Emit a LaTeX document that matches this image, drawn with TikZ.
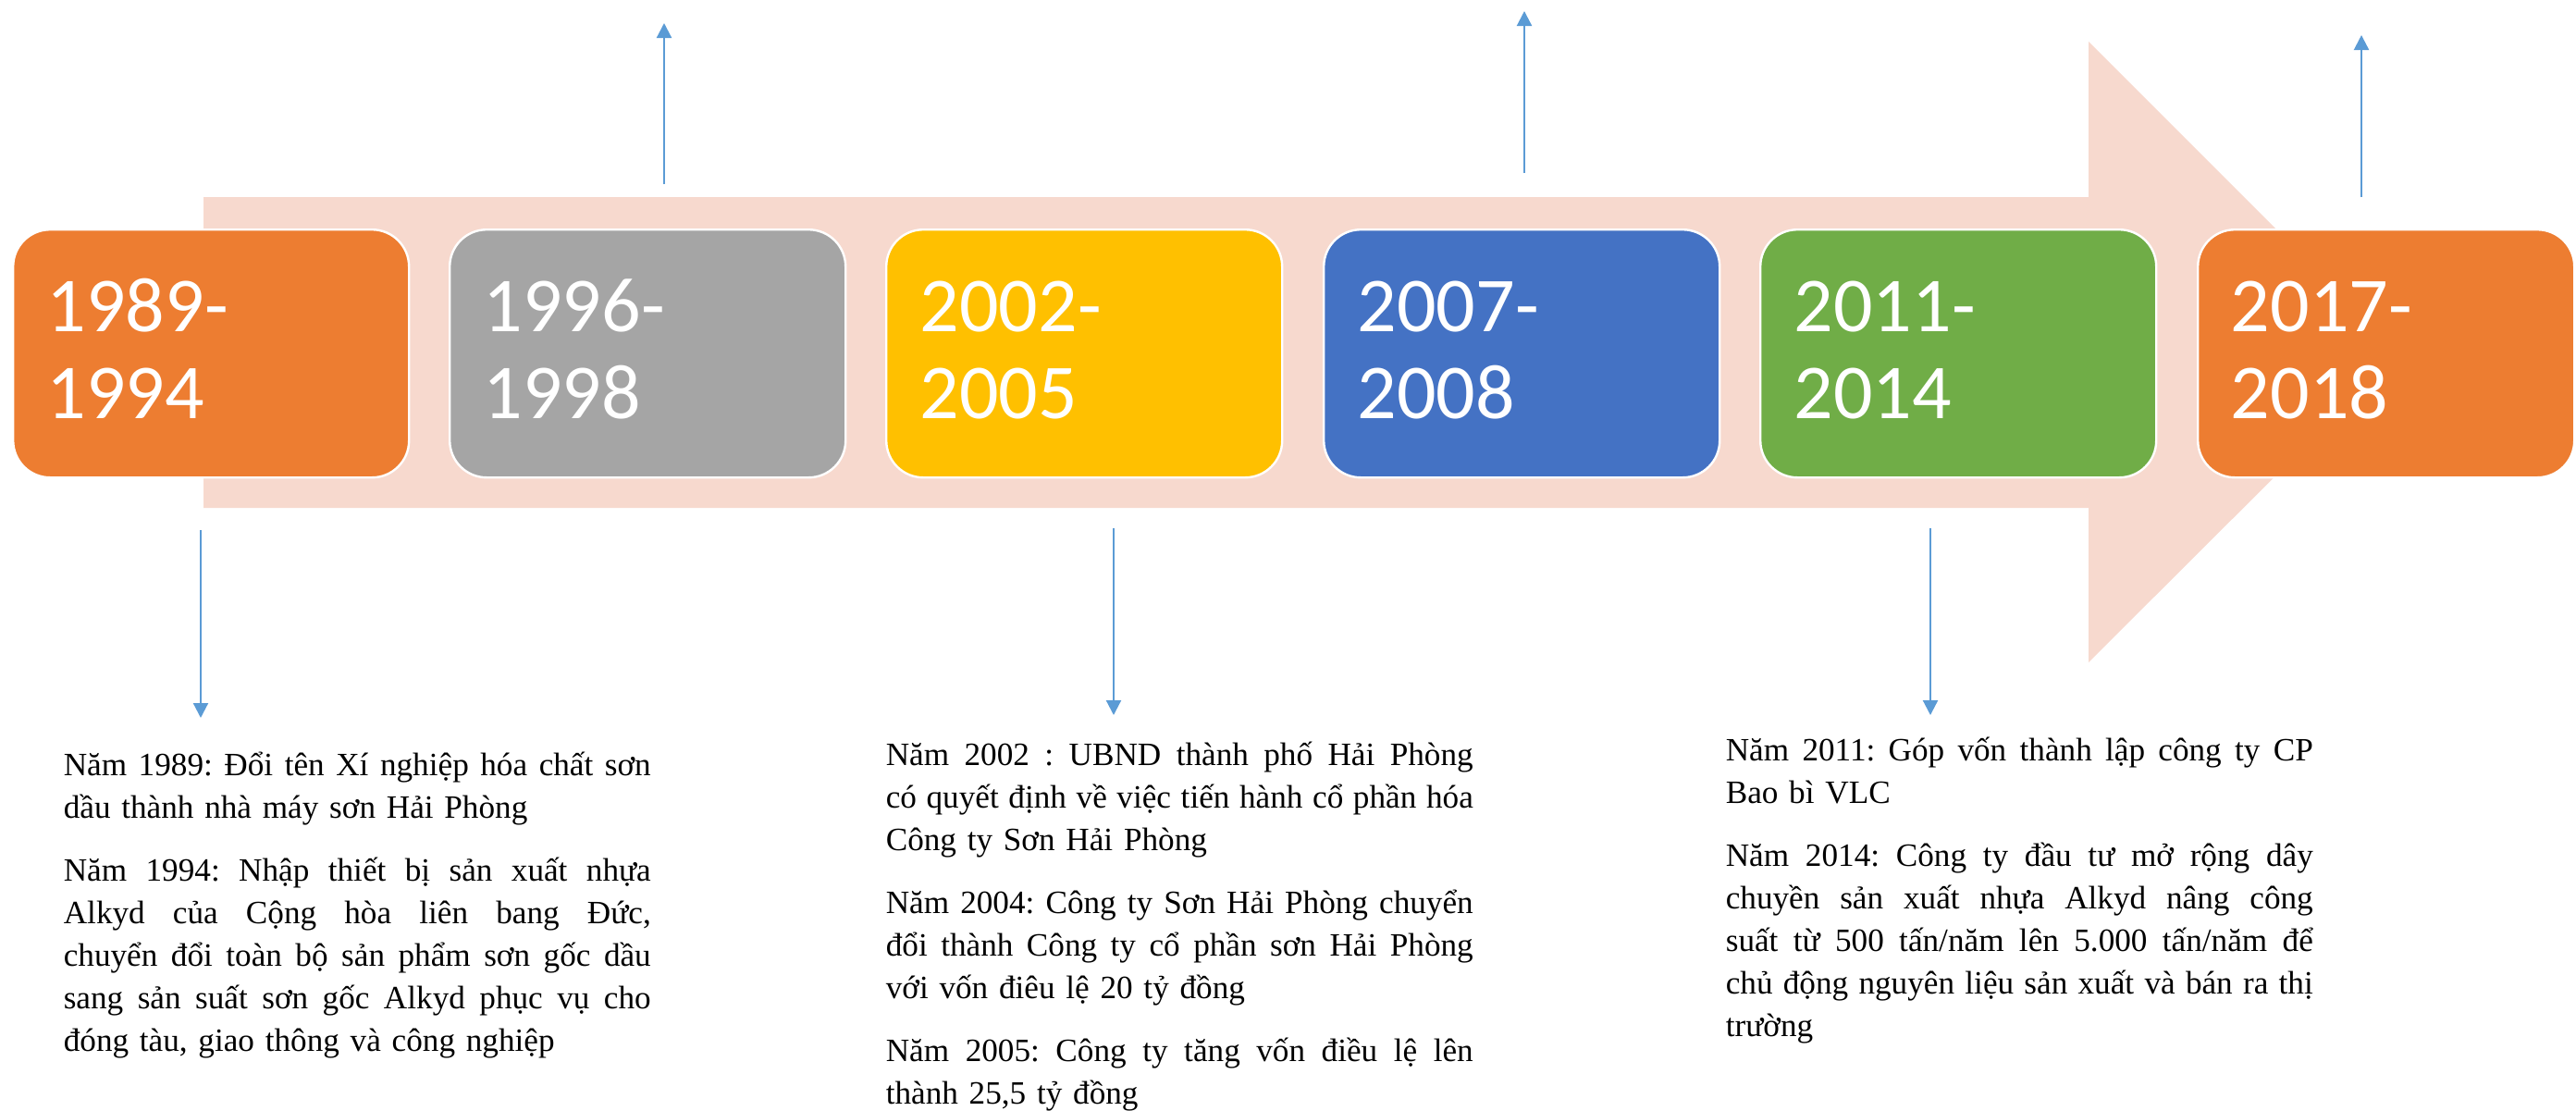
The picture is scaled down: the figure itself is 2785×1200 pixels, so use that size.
\documentclass[tikz,border=0pt]{standalone}
\usepackage{fontspec}
\setmainfont{Liberation Serif}
\newfontfamily\calfont{Carlito}
\usetikzlibrary{arrows.meta}
\definecolor{arrowbg}{HTML}{F7D9CE}
\definecolor{cOrange}{HTML}{ED7D31}
\definecolor{cGray}{HTML}{A5A5A5}
\definecolor{cGold}{HTML}{FFC000}
\definecolor{cBlue}{HTML}{4472C4}
\definecolor{cGreen}{HTML}{70AD47}
\definecolor{cLine}{HTML}{5B9BD5}
\newlength\descw
\setlength\descw{158.75pt}
\newcommand{\jl}[1]{\leavevmode\hbox to \descw{\spaceskip=\fontdimen2\font plus 1fil minus .4\fontdimen2\font\relax #1}}
\begin{document}
\begin{tikzpicture}[x=0.25pt,y=-0.25pt,
  yearbox/.style={draw=white, line width=0.6pt, rounded corners=10pt,
    minimum width=107pt, minimum height=67pt, inner sep=0pt, anchor=north west},
  yearlabel/.style={anchor=base west, inner sep=0pt, text=white,
    font=\calfont\fontsize{21}{23.5}\selectfont, text width=80pt, align=left},
  desc/.style={anchor=base west, inner sep=0pt, text width=\descw, align=left,
    font=\fontsize{8.8}{11.5}\selectfont\frenchspacing},
  conn/.style={draw=cLine, line width=0.55pt, -{Triangle[width=4pt,length=4pt]}}
]
\useasboundingbox (0,0) rectangle (2785,1200);

% big background arrow
\fill[arrowbg] (220,213) -- (2258,213) -- (2258,45) -- (2594,381)
  -- (2258,716) -- (2258,549) -- (220,549) -- cycle;

% year boxes
\node[yearbox, fill=cOrange] (b1) at (13,247) {};
\node[yearbox, fill=cGray]   (b2) at (485,247) {};
\node[yearbox, fill=cGold]   (b3) at (957,247) {};
\node[yearbox, fill=cBlue]   (b4) at (1430,247) {};
\node[yearbox, fill=cGreen]  (b5) at (1902,247) {};
\node[yearbox, fill=cOrange, minimum width=101.75pt] (b6) at (2375,247) {};

\node[yearlabel] (l1) at (50,358) {1989-\\1994};
\node[yearlabel] (l2) at (522,358) {1996-\\1998};
\node[yearlabel] (l3) at (994,358) {2002-\\2005};
\node[yearlabel] (l4) at (1467,358) {2007-\\2008};
\node[yearlabel] (l5) at (1939,358) {2011-\\2014};
\node[yearlabel] (l6) at (2411,358) {2017-\\2018};

% connectors
\coordinate (u1a) at (718,199);  \coordinate (u1b) at (718,25);
\coordinate (u2a) at (1648,187); \coordinate (u2b) at (1648,12);
\coordinate (u3a) at (2553,213); \coordinate (u3b) at (2553,38);
\coordinate (d1a) at (217,573);  \coordinate (d1b) at (217,776);
\coordinate (d2a) at (1204,571); \coordinate (d2b) at (1204,773);
\coordinate (d3a) at (2087,571); \coordinate (d3b) at (2087,773);
\draw[conn] (u1a) -- (u1b);
\draw[conn] (u2a) -- (u2b);
\draw[conn] (u3a) -- (u3b);
\draw[conn] (d1a) -- (d1b);
\draw[conn] (d2a) -- (d2b);
\draw[conn] (d3a) -- (d3b);

% descriptions
\node[desc] (t1) at (68,838) {%
\jl{Năm 1989: Đổi tên Xí nghiệp hóa chất sơn}\\
dầu thành nhà máy sơn Hải Phòng\\[5.5pt]
\jl{Năm 1994: Nhập thiết bị sản xuất nhựa}\\
\jl{Alkyd của Cộng hòa liên bang Đức,}\\
\jl{chuyển đổi toàn bộ sản phẩm sơn gốc dầu}\\
\jl{sang sản suất sơn gốc Alkyd phục vụ cho}\\
đóng tàu, giao thông và công nghiệp};

\node[desc] (t2) at (957,827) {%
\jl{Năm 2002 : UBND thành phố Hải Phòng}\\
\jl{có quyết định về việc tiến hành cổ phần hóa}\\
Công ty Sơn Hải Phòng\\[5.5pt]
\jl{Năm 2004: Công ty Sơn Hải Phòng chuyển}\\
\jl{đổi thành Công ty cổ phần sơn Hải Phòng}\\
với vốn điêu lệ 20 tỷ đồng\\[5.5pt]
\jl{Năm 2005: Công ty tăng vốn điều lệ lên}\\
thành 25,5 tỷ đồng};

\node[desc] (t3) at (1865,822) {%
\jl{Năm 2011: Góp vốn thành lập công ty CP}\\
Bao bì VLC\\[5.5pt]
\jl{Năm 2014: Công ty đầu tư mở rộng dây}\\
\jl{chuyền sản xuất nhựa Alkyd nâng công}\\
\jl{suất từ 500 tấn/năm lên 5.000 tấn/năm để}\\
\jl{chủ động nguyên liệu sản xuất và bán ra thị}\\
trường};
\end{tikzpicture}
\end{document}
